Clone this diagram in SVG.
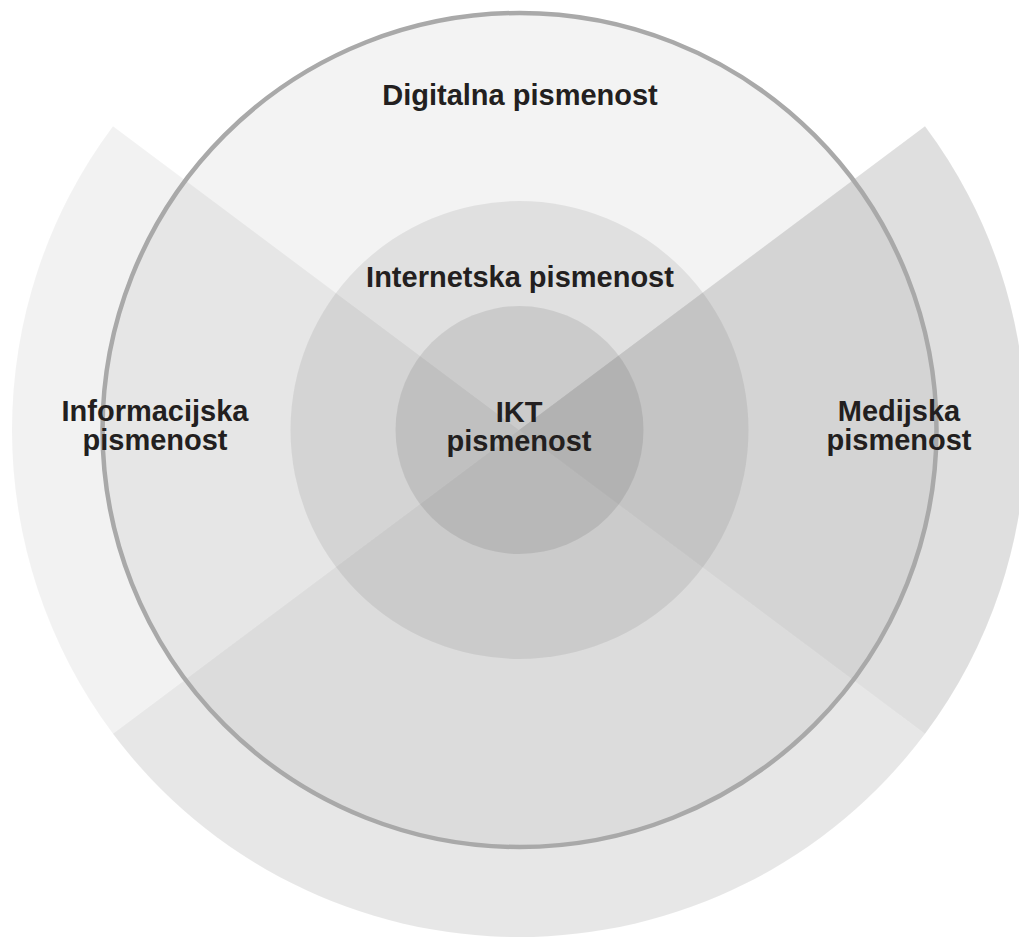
<svg xmlns="http://www.w3.org/2000/svg" width="1019" height="938" viewBox="0 0 1019 938">
<style>
.shade{fill:#000}
.lbl{font-family:"Liberation Sans",Arial,Helvetica,sans-serif;font-weight:bold;font-size:29px;fill:#231f20;text-anchor:middle}
</style>
<rect x="0" y="0" width="1019" height="938" fill="#ffffff"/>
<g id="sectors">
<g id="informacijska-sector"><path class="shade" fill-opacity="0.05" d="M519,430 L113,126.3 A507,507 0 0 0 113,733.7 Z"/></g>
<g id="donji-sector"><path class="shade" fill-opacity="0.095" d="M519,430 L113,733.7 A507,507 0 0 0 925,733.7 Z"/></g>
<g id="medijska-sector"><path class="shade" fill-opacity="0.125" d="M519,430 L925,733.7 A507,507 0 0 0 925,126.3 Z"/></g>
</g>
<g id="digitalna">
<circle class="shade" fill-opacity="0.047" cx="519.5" cy="430" r="417"/>
</g>
<g id="internetska">
<circle class="shade" fill-opacity="0.074" cx="519.5" cy="430" r="229"/>
</g>
<g id="ikt">
<circle class="shade" fill-opacity="0.09" cx="519.5" cy="430" r="124"/>
</g>
<g id="outline">
<circle cx="519.5" cy="430" r="417" fill="none" stroke="#a9a9a9" stroke-width="4.5"/>
</g>
<g id="labels">
<text class="lbl" x="520" y="105">Digitalna pismenost</text>
<text class="lbl" x="520" y="287">Internetska pismenost</text>
<text class="lbl" x="519" y="422">IKT</text>
<text class="lbl" x="519" y="451">pismenost</text>
<text class="lbl" x="155" y="421">Informacijska</text>
<text class="lbl" x="155" y="450">pismenost</text>
<text class="lbl" x="899" y="421">Medijska</text>
<text class="lbl" x="899" y="450">pismenost</text>
</g>
</svg>
